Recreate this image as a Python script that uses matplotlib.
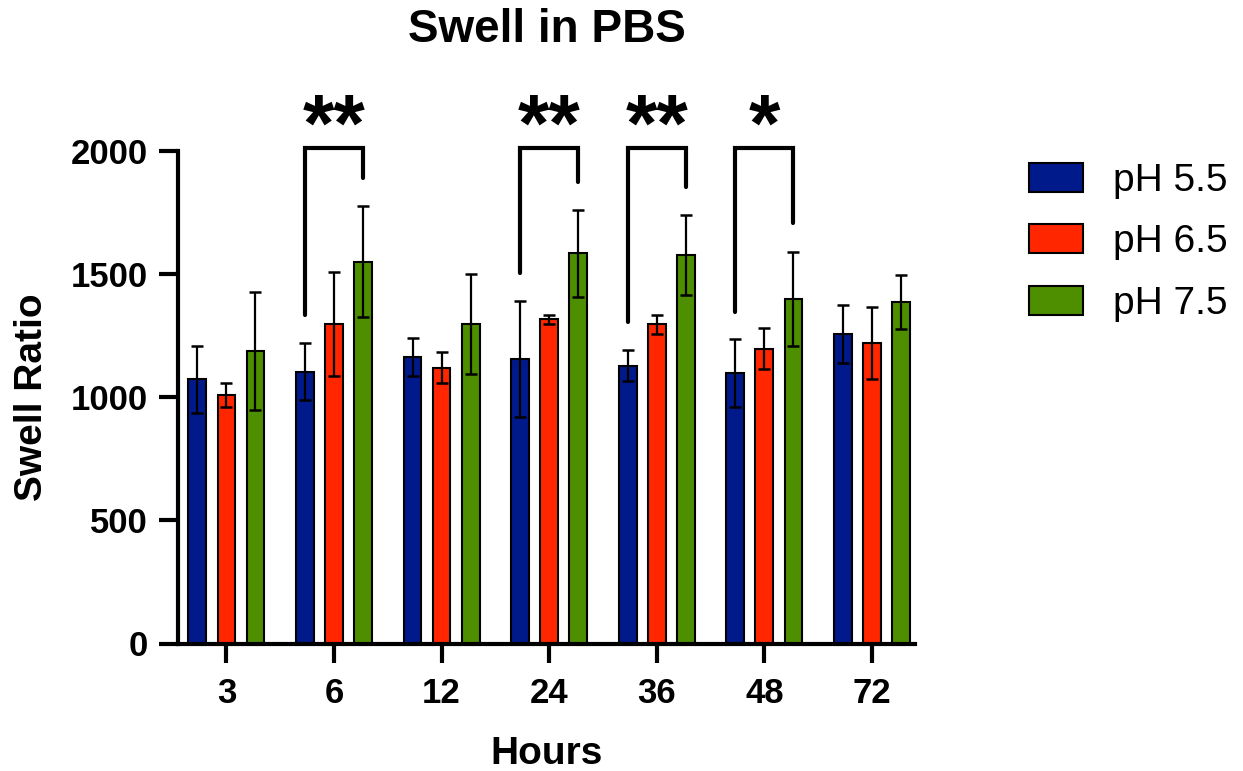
import numpy as np
import matplotlib
matplotlib.use('Agg')
import matplotlib.pyplot as plt

# data
hours = ['3', '6', '12', '24', '36', '48', '72']
series = ['pH 5.5', 'pH 6.5', 'pH 7.5']
ph55 = [1072, 1103, 1161, 1154, 1127, 1096, 1256]
ph55_err = [135, 116, 77, 234, 64, 138, 117]
ph65 = [1008, 1297, 1118, 1315, 1295, 1196, 1219]
ph65_err = [48, 210, 63, 18, 38, 83, 148]
ph75 = [1187, 1549, 1297, 1583, 1576, 1398, 1385]
ph75_err = [239, 225, 202, 177, 161, 192, 111]
colors = ['#001A8C', '#FF2600', '#4E8F00']

# significance brackets (pH 5.5 vs pH 7.5)
sig_groups = [1, 3, 4, 5]
sig_labels = ['**', '**', '**', '*']
sig_left = [1333, 1502, 1306, 1346]
sig_right = [1887, 1873, 1853, 1705]
sig_top = 2010
star_y = 2085

plt.rcParams['font.family'] = 'Liberation Sans'

fig = plt.figure(figsize=(12.43, 7.71), dpi=100)
ax = fig.add_axes([178 / 1243, 1 - 643.5 / 771, 737 / 1243, 493 / 771])

x = np.arange(len(hours))
offset = 0.27
width = 0.165
bars = []
for i, (vals, errs) in enumerate([(ph55, ph55_err), (ph65, ph65_err), (ph75, ph75_err)]):
    xs = x + (i - 1) * offset
    b = ax.bar(xs, vals, width, color=colors[i], edgecolor='black', linewidth=1.5, zorder=2)
    ax.errorbar(xs, vals, yerr=errs, fmt='none', ecolor='black', elinewidth=1.6,
                capsize=4.5, capthick=1.8, zorder=3)
    bars.append(b)

for g, lab, yl, yr in zip(sig_groups, sig_labels, sig_left, sig_right):
    xl = g - offset
    xr = g + offset
    ax.plot([xl, xl, xr, xr], [yl, sig_top, sig_top, yr], color='black', lw=3,
            clip_on=False, solid_joinstyle='miter', solid_capstyle='round', zorder=4)
    ax.text(g, star_y, lab, ha='center', va='center', fontsize=58, fontweight='bold',
            clip_on=False)

ax.set_xlim(-0.45, 6.4)
ax.set_ylim(0, 2000)
ax.set_yticks([0, 500, 1000, 1500, 2000])
ax.set_xticks(x)
ax.set_xticklabels(hours)
for s in ['top', 'right']:
    ax.spines[s].set_visible(False)
for s in ['left', 'bottom']:
    ax.spines[s].set_linewidth(3)
ax.tick_params(width=3, length=14, labelsize=25, pad=8)
ax.tick_params(axis='x', pad=10)
for lab in ax.get_xticklabels() + ax.get_yticklabels():
    lab.set_fontweight('bold')

ax.set_title('Swell in PBS', fontsize=33, fontweight='bold', pad=78)
ax.set_xlabel('Hours', fontsize=28, fontweight='bold', labelpad=19)
ax.set_ylabel('Swell Ratio', fontsize=28, fontweight='bold')
ax.yaxis.set_label_coords(-0.173, 0.5)

ax.legend(bars, series, loc='upper left', bbox_to_anchor=(1029 / 1243, 1 - 163 / 771),
          bbox_transform=fig.transFigure, frameon=False, fontsize=28,
          handlelength=1.39, handleheight=0.77, handletextpad=0.77,
          labelspacing=0.65, borderpad=0, borderaxespad=0)

fig.savefig('out.png', dpi=100)
